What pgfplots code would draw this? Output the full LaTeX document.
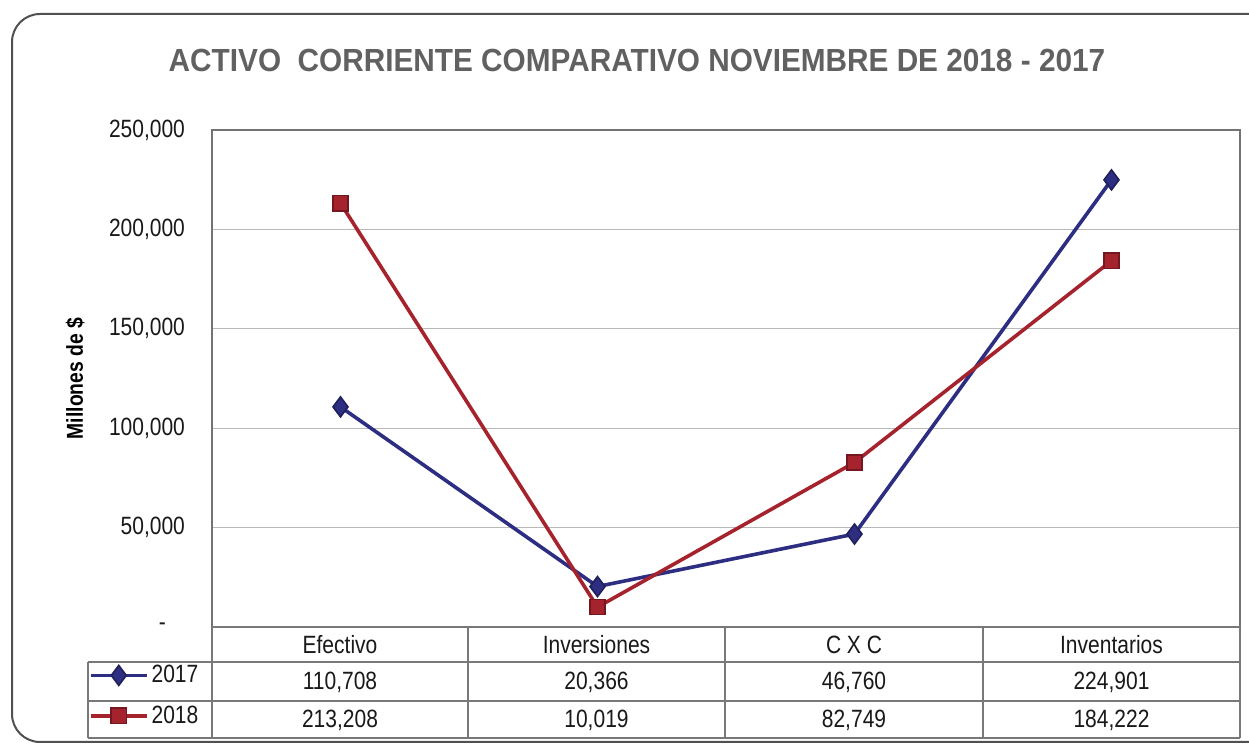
\documentclass[border=0pt]{standalone}
\usepackage{fontspec}
\setmainfont{Liberation Sans}[FakeStretch=0.84]
\newfontfamily\titlefont{Liberation Sans}[FakeStretch=0.93]
\usepackage{pgfplots}
\pgfplotsset{compat=1.18}
\definecolor{c17}{RGB}{45,45,130}
\definecolor{c18}{RGB}{165,35,45}
\definecolor{gridc}{RGB}{185,185,185}
\definecolor{framec}{RGB}{80,80,80}
\definecolor{tabc}{RGB}{120,120,120}
\begin{document}
\begin{tikzpicture}[x=1pt,y=1pt]
\useasboundingbox (0pt,0pt) rectangle (624.5pt,372.5pt);
\draw[framec, line width=1pt, rounded corners=14pt] (6pt,1.5pt) rectangle (660pt,365.5pt);
\node[font=\titlefont\fontsize{16}{18}\selectfont\bfseries, text=black!62] at (318.5pt,342.5pt) {ACTIVO\ \ CORRIENTE COMPARATIVO NOVIEMBRE DE 2018 - 2017};
\begin{axis}[
 at={(106pt,59pt)}, anchor=south west, scale only axis, width=514pt, height=248.5pt,
 xmin=-0.5, xmax=3.5, ymin=0, ymax=250000,
 xtick=\empty, ytick={0,50000,100000,150000,200000,250000},
 scaled y ticks=false,
 yticklabels={{\makebox[13pt][l]{-}},{50,000},{100,000},{150,000},{200,000},{250,000}},
 yticklabel style={font=\fontsize{12.5}{14}\selectfont, text=black!90, xshift=-10pt},
 major tick length=0pt,
 ymajorgrids, grid style={gridc, line width=0.6pt},
 axis line style={black!55, line width=0.6pt},
 ylabel={Millones de \$},
 ylabel style={font=\fontsize{11.5}{13}\selectfont\bfseries, at={(axis description cs:-0.133,0.5)}, anchor=center},
 clip=false,
 legend cell align=left,
 legend style={at={(axis description cs:-0.01,-0.07)}, anchor=north east, draw=none, fill=none,
   font=\fontsize{12.5}{14}\selectfont, inner sep=0pt, row sep=7pt,
   nodes={inner sep=1.5pt, text=black!90}},
 legend image code/.code={\draw[mark repeat=2,mark phase=2,#1] plot coordinates {(0pt,0pt)(14pt,0pt)(28pt,0pt)};},
]
\addplot[c17, line width=1.8pt, mark=diamond*, mark size=5pt, mark options={solid, fill=c17, draw=c17!70!black, line width=0.8pt}]
 coordinates {(0,110708)(1,20366)(2,46760)(3,224901)};
\addlegendentry{2017}
\addplot[c18, line width=1.8pt, mark=square*, mark size=3.8pt, mark options={solid, fill=c18, draw=c18!70!black, line width=0.8pt}]
 coordinates {(0,213208)(1,10019)(2,82749)(3,184222)};
\addlegendentry{2018}
\end{axis}
% data table grid
\begin{scope}[tabc, line width=0.6pt]
\draw (106pt,59pt) -- (620pt,59pt);
\draw (44pt,41.5pt) -- (620pt,41.5pt);
\draw (44pt,22pt) -- (620pt,22pt);
\draw (44pt,3.5pt) -- (620pt,3.5pt);
\draw (44pt,41.5pt) -- (44pt,3.5pt);
\foreach \xx in {106,234,362.5,491.5,620} {\draw (\xx pt,59pt) -- (\xx pt,3.5pt);}
\end{scope}
\begin{scope}[every node/.style={font=\fontsize{12.5}{14}\selectfont, text=black!90}]
\node at (170pt,50pt) {Efectivo};
\node at (298.25pt,50pt) {Inversiones};
\node at (427pt,50pt) {C X C};
\node at (555.75pt,50pt) {Inventarios};
\node at (170pt,31.5pt) {110,708};
\node at (298.25pt,31.5pt) {20,366};
\node at (427pt,31.5pt) {46,760};
\node at (555.75pt,31.5pt) {224,901};
\node at (170pt,12.5pt) {213,208};
\node at (298.25pt,12.5pt) {10,019};
\node at (427pt,12.5pt) {82,749};
\node at (555.75pt,12.5pt) {184,222};
\end{scope}
\end{tikzpicture}
\end{document}
